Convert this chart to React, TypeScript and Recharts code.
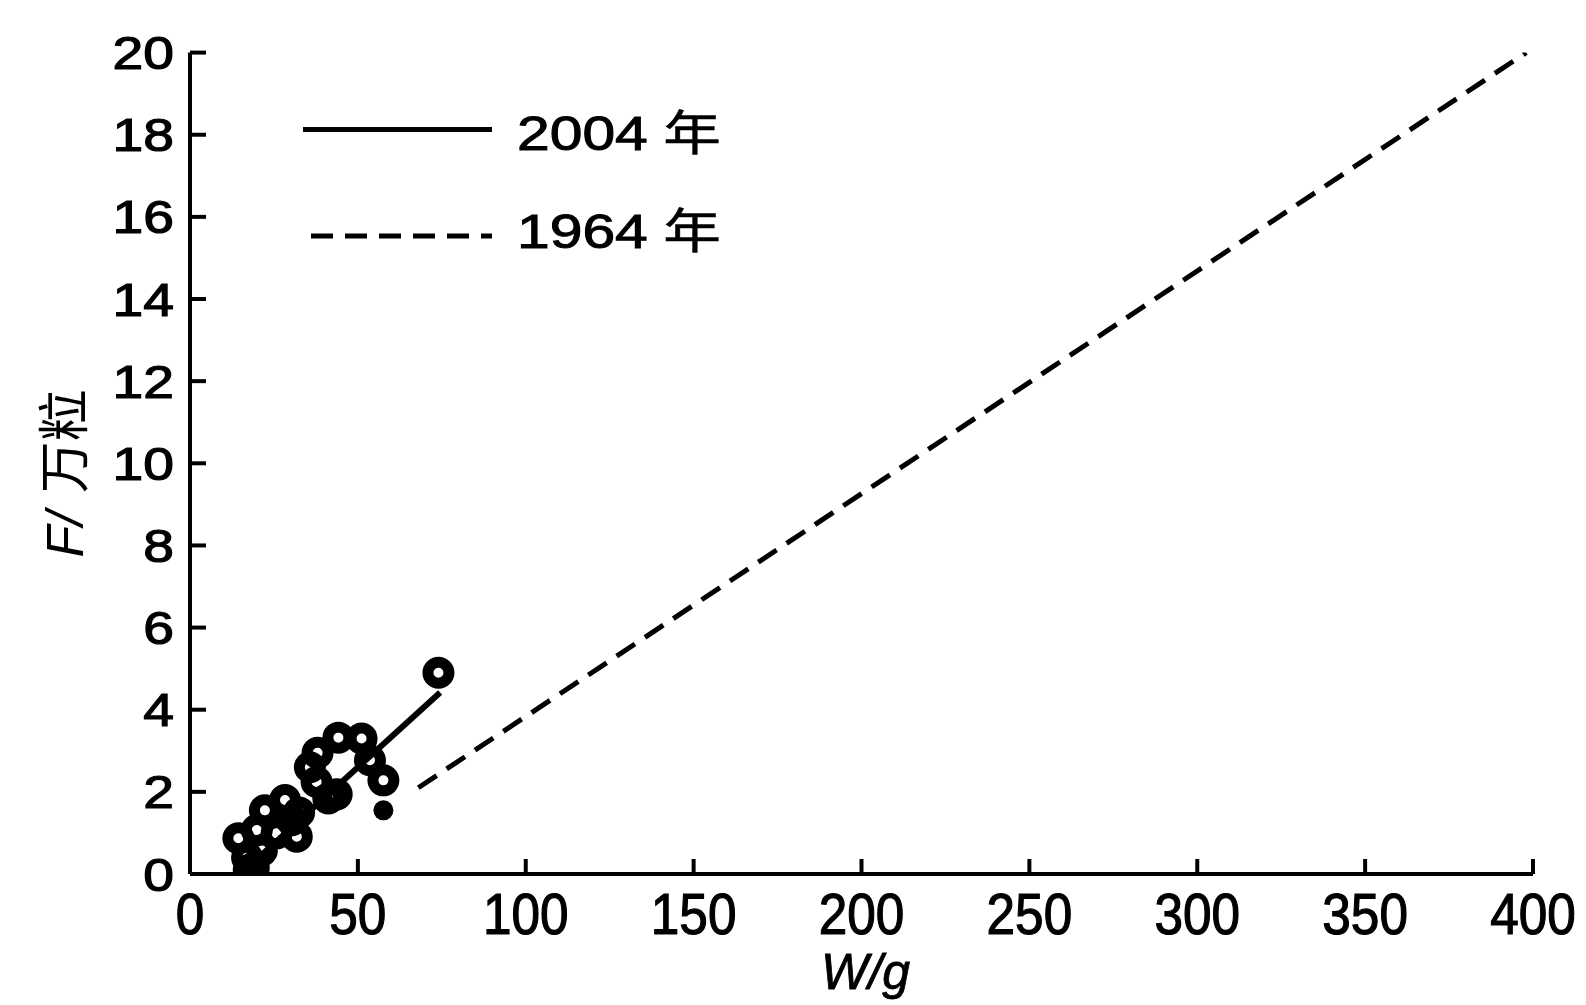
import React from 'react';
import { ScatterChart, Scatter, XAxis, YAxis, Legend } from 'recharts';

const xTicks = [0, 50, 100, 150, 200, 250, 300, 350, 400];
const yTicks = [0, 2, 4, 6, 8, 10, 12, 14, 16, 18, 20];

// 2004 observed points (open circles)
const open2004 = [
  { x: 74, y: 4.9 },
  { x: 44.2, y: 3.32 },
  { x: 51.1, y: 3.3 },
  { x: 53.6, y: 2.77 },
  { x: 57.6, y: 2.28 },
  { x: 35.7, y: 2.6 },
  { x: 38, y: 2.95 },
  { x: 37.7, y: 2.24 },
  { x: 41.2, y: 1.84 },
  { x: 43.7, y: 1.94 },
  { x: 28.3, y: 1.8 },
  { x: 30.3, y: 1.31 },
  { x: 32.5, y: 1.5 },
  { x: 22.3, y: 1.55 },
  { x: 19.9, y: 1.07 },
  { x: 25.8, y: 0.99 },
  { x: 31.8, y: 0.91 },
  { x: 14.4, y: 0.87 },
  { x: 21.4, y: 0.57 },
  { x: 17, y: 0.4 },
  { x: 17.5, y: 0.1 },
  { x: 19, y: 0.15 },
];
// 2004 filled point
const filled2004 = [{ x: 57.6, y: 1.55 }];

// fitted lines
const fit2004 = [
  { x: 18, y: 0.22 },
  { x: 74.5, y: 4.42 },
];
const fit1964 = [
  { x: 68, y: 2.1 },
  { x: 398, y: 20 },
];

const legendLabels = ['2004', '1964'];
const yearChar = '年';
const xLabel = 'W/g';
const yLabelLatin = 'F/';
const yLabelCjk = '万粒';

const LATIN = "'Liberation Sans', Arial, sans-serif";
const CJK = "'Noto Sans CJK SC', sans-serif";

const YTick = (props: any) => {
  const { x, y, payload } = props;
  return (
    <text
      transform={`translate(${x},${y}) scale(1.2,1)`}
      textAnchor="end"
      dy="0.36em"
      fontSize={46}
      fontFamily={LATIN}
      fill="#000"
      stroke="#000"
      strokeWidth={1.2}
    >
      {payload.value}
    </text>
  );
};

const XTick = (props: any) => {
  const { x, y, payload } = props;
  return (
    <text
      transform={`translate(${x},${y}) scale(0.9,1)`}
      textAnchor="middle"
      dy="0.72em"
      fontSize={57}
      fontFamily={LATIN}
      fill="#000"
      stroke="#000"
      strokeWidth={1.2}
    >
      {payload.value}
    </text>
  );
};

const OpenCircle = (props: any) => {
  const { cx, cy } = props;
  return <circle cx={cx} cy={cy} r={10.5} fill="none" stroke="#000" strokeWidth={11} />;
};

const FilledCircle = (props: any) => {
  const { cx, cy } = props;
  return <circle cx={cx} cy={cy} r={10} fill="#000" />;
};

const NoShape = () => <g />;

const LegendBox = () => (
  <svg width={540} height={190} style={{ display: 'block', overflow: 'visible' }}>
    <line x1={0} y1={31.5} x2={189} y2={31.5} stroke="#000" strokeWidth={5} />
    <text
      transform="translate(214,52) scale(1.2,1)"
      fontSize={49}
      fontFamily={LATIN}
      fill="#000"
      stroke="#000"
      strokeWidth={1}
    >
      {legendLabels[0]}
      <tspan fontFamily={CJK} fontSize={48} dx={13} strokeWidth={0.5}>{yearChar}</tspan>
    </text>
    <line x1={8} y1={138} x2={189} y2={138} stroke="#000" strokeWidth={5} strokeDasharray="22 12" />
    <text
      transform="translate(214,150) scale(1.2,1)"
      fontSize={49}
      fontFamily={LATIN}
      fill="#000"
      stroke="#000"
      strokeWidth={1}
    >
      {legendLabels[1]}
      <tspan fontFamily={CJK} fontSize={48} dx={13} strokeWidth={0.5}>{yearChar}</tspan>
    </text>
  </svg>
);

const XAxisLabel = (props: any) => {
  const vb = props.viewBox || {};
  return (
    <text
      x={vb.x + vb.width / 2 + 4}
      y={vb.y + 115}
      textAnchor="middle"
      fontSize={50}
      fontStyle="italic"
      fontFamily={LATIN}
      fill="#000"
      stroke="#000"
      strokeWidth={0.8}
    >
      {xLabel}
    </text>
  );
};

const YAxisLabel = (props: any) => {
  const vb = props.viewBox || {};
  const cx = vb.x - 6;
  const cy = vb.y + vb.height / 2 + 10;
  return (
    <text
      transform={`translate(${cx},${cy}) rotate(-90)`}
      textAnchor="middle"
      dy="0.36em"
      fontSize={52}
      fill="#000"
    >
      <tspan fontFamily={LATIN} fontStyle="italic">{yLabelLatin}</tspan>
      <tspan fontFamily={CJK} dx={18}>{yLabelCjk}</tspan>
    </text>
  );
};

export default function App() {
  return (
    <div style={{ width: 1570, height: 997, background: '#fff' }}>
      <ScatterChart
        width={1570}
        height={997}
        margin={{ top: 44.6, right: 45, left: 62, bottom: 31 }}
      >
        <XAxis
          type="number"
          dataKey="x"
          domain={[0, 400]}
          ticks={xTicks}
          interval={0}
          height={100}
          axisLine={{ stroke: '#000', strokeWidth: 4 }}
          tickLine={{ stroke: '#000', strokeWidth: 4 }}
          tickSize={-15}
          tickMargin={34}
          tick={<XTick />}
          allowDataOverflow
          label={<XAxisLabel />}
        />
        <YAxis
          type="number"
          dataKey="y"
          domain={[0, 20]}
          ticks={yTicks}
          interval={0}
          width={120}
          axisLine={{ stroke: '#000', strokeWidth: 4 }}
          tickLine={{ stroke: '#000', strokeWidth: 4 }}
          tickSize={-16}
          tickMargin={32}
          tick={<YTick />}
          allowDataOverflow
          label={<YAxisLabel />}
        />
        <Legend
          layout="vertical"
          align="center"
          verticalAlign="middle"
          content={() => <LegendBox />}
          wrapperStyle={{ position: 'absolute', left: 295, top: 90, width: 540, height: 190 }}
        />
        <Scatter
          name="1964年"
          data={fit1964}
          line={{ stroke: '#000', strokeWidth: 5, strokeDasharray: '22 12' }}
          shape={<NoShape />}
          isAnimationActive={false}
          legendType="none"
        />
        <Scatter
          name="2004年"
          data={fit2004}
          line={{ stroke: '#000', strokeWidth: 6 }}
          shape={<NoShape />}
          isAnimationActive={false}
          legendType="none"
        />
        <Scatter
          name="2004 open"
          data={open2004}
          shape={<OpenCircle />}
          isAnimationActive={false}
          legendType="none"
        />
        <Scatter
          name="2004 filled"
          data={filled2004}
          shape={<FilledCircle />}
          isAnimationActive={false}
          legendType="none"
        />
      </ScatterChart>
    </div>
  );
}
